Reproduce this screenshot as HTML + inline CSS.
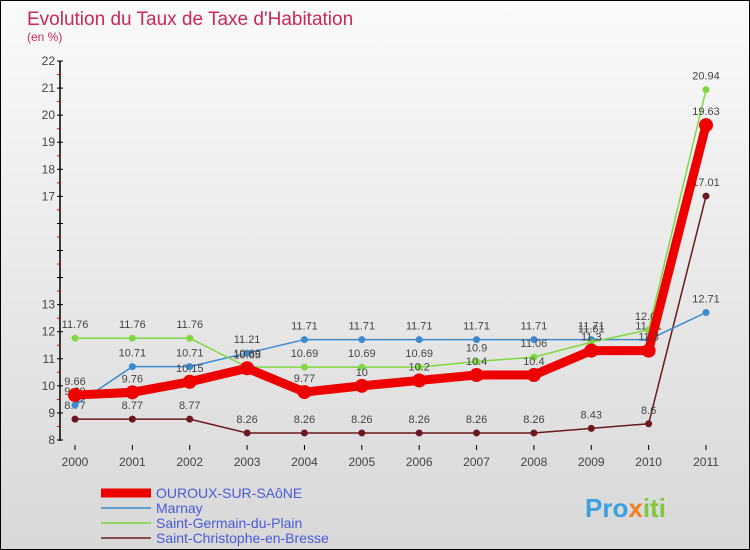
<!DOCTYPE html>
<html><head><meta charset="utf-8"><style>
body{margin:0}
#c{width:748px;height:548px;border:1px solid #000;background:linear-gradient(#fafafa,#d8d8d8);position:relative;overflow:hidden;font-family:"Liberation Sans",sans-serif}
</style></head><body>
<div id="c">
<svg id="s" width="748" height="548"></svg>
</div>
<script>
const years=["2000","2001","2002","2003","2004","2005","2006","2007","2008","2009","2010","2011"];
const ouroux=[9.66,9.76,10.15,10.65,9.77,10,10.2,10.4,10.4,11.3,11.3,19.63];
const marnay=[9.29,10.71,10.71,11.21,11.71,11.71,11.71,11.71,11.71,11.71,11.71,12.71];
const germain=[11.76,11.76,11.76,10.69,10.69,10.69,10.69,10.9,11.06,11.61,12.07,20.94];
const christophe=[8.77,8.77,8.77,8.26,8.26,8.26,8.26,8.26,8.26,8.43,8.6,17.01];
const yTicks=[8,9,10,11,12,13,17,18,19,20,21,22];
const NS="http://www.w3.org/2000/svg";
const s=document.getElementById('s');
const X=i=>74+i*(705-74)/11;
const Y=v=>439-(v-8)*(439-60)/14;
function el(t,a,p){const e=document.createElementNS(NS,t);for(const k in a)e.setAttribute(k,a[k]);(p||s).appendChild(e);return e;}
function tx(x,y,str,a,p){const e=el('text',Object.assign({x:x,y:y,'font-size':12,fill:'#444'},a||{}),p);e.textContent=str;return e;}
const t1=tx(26,24,"Evolution du Taux de Taxe d'Habitation",{'font-size':19,fill:'#c8285a'});

const t2=tx(26,40,"(en %)",{'font-size':12,fill:'#c8285a'});

const ax=el('line',{x1:59,y1:60,x2:59,y2:440,stroke:'#000','stroke-width':1.5});

for(let v=8;v<=22;v++){el('line',{x1:56,x2:62,y1:Y(v),y2:Y(v),stroke:'#000'});
if(v<22)el('line',{x1:56,x2:59,y1:Y(v+0.5),y2:Y(v+0.5),stroke:'#e00'});}
yTicks.forEach(v=>{const t=tx(54,Y(v)+4,String(v),{'text-anchor':'end'});});
years.forEach((y,i)=>{el('line',{x1:X(i),x2:X(i),y1:444,y2:449,stroke:'#000'});
const t=tx(X(i),465,y,{'text-anchor':'middle'});});
function series(d,col,w,r,name){const g=el('g',{});
el('polyline',{points:d.map((v,i)=>X(i)+','+Y(v)).join(' '),fill:'none',stroke:col,'stroke-width':w},g);
d.forEach((v,i)=>{const c=el('circle',{cx:X(i),cy:Y(v),r:r,fill:col},g);
tx(X(i),Y(v)-10,String(v),{'text-anchor':'middle','font-size':11},g);});}
series(christophe,'#6a1a1e',1.5,3.5,'series-saint-christophe');
series(marnay,'#3a8ad0',1.5,3.5,'series-marnay');
series(germain,'#80d840',1.5,3.5,'series-saint-germain');
series(ouroux,'#ee0000',9,7,'series-ouroux');
const leg=[["OUROUX-SUR-SAôNE",'#ee0000',9],["Marnay",'#3a8ad0',1.5],["Saint-Germain-du-Plain",'#80d840',1.5],["Saint-Christophe-en-Bresse",'#6a1a1e',1.5]];
leg.forEach((l,i)=>{const g=el('g',{});
const y=492+i*15;el('line',{x1:100,x2:150,y1:y,y2:y,stroke:l[1],'stroke-width':l[2]},g);
tx(155,y+5,l[0],{'font-size':14,fill:'#4a5ad8'},g);});
const lg=el('text',{x:584,y:516,'font-size':26,'font-weight':'bold'});

[["Pro","#3aa0e0"],["x","#f08020"],["iti","#80c840"]].forEach(p=>{const t=el('tspan',{fill:p[1]},lg);t.textContent=p[0];});
</script>
</body></html>
